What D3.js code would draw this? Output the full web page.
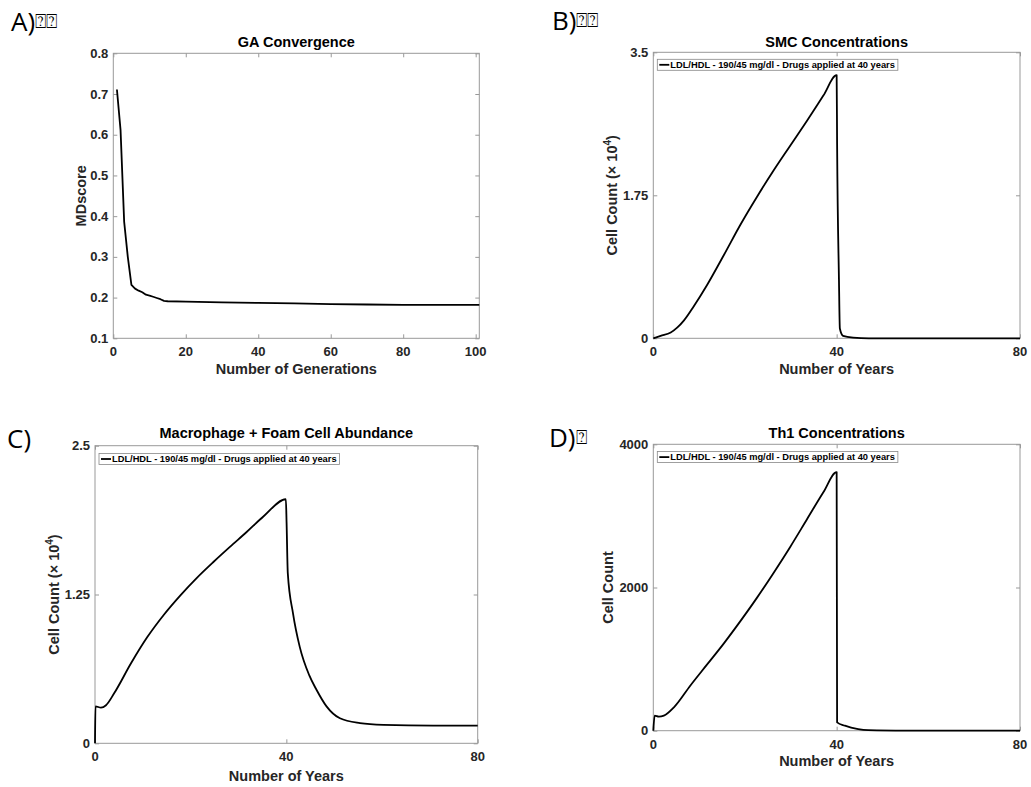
<!DOCTYPE html>
<html>
<head>
<meta charset="utf-8">
<script src="https://cdn.jsdelivr.net/npm/d3@7"></script>
<style>
  body { margin: 0; background: #fff; }
  text { font-family: "Liberation Sans", Arial, sans-serif; fill: #262626; }
  .tick-label { font-size: 13px; font-weight: bold; }
  .axis-title { font-size: 14.5px; font-weight: bold; }
  .panel-title { font-size: 14.5px; font-weight: bold; fill: #000; }
  .legend-text { font-size: 9.3px; font-weight: bold; fill: #000; }
  .panel-letter { font-family: "Open Sans", sans-serif; font-size: 26px; fill: #000; }
  .tofu { font-family: "DejaVu Sans", sans-serif; font-size: 19px; }
</style>
</head>
<body>
<svg id="fig" width="1031" height="787"></svg>
<script>
// ---- data ----
const legendLabel = 'LDL/HDL - 190/45 mg/dl - Drugs applied at 40 years';

// A) GA convergence
const genA = [1, 2, 3, 4, 5, 6, 7, 8, 9, 10, 11, 12, 13, 14, 15, 20, 30, 40, 50, 60, 70, 80, 90, 101];
const scoreA = [0.711, 0.612, 0.386, 0.300, 0.231, 0.222, 0.217, 0.213, 0.207, 0.205, 0.202, 0.199, 0.196, 0.192, 0.191,
                0.190, 0.188, 0.187, 0.186, 0.184, 0.183, 0.182, 0.182, 0.182];
const xTicksA = [0, 20, 40, 60, 80, 100];
const yTicksA = [0.1, 0.2, 0.3, 0.4, 0.5, 0.6, 0.7, 0.8];

// B) SMC concentrations (x 10^4)
const yearsB = [0, 1.6, 3.8, 5.2, 6.7, 8.8, 11.7, 15.4, 19, 22.6, 26.2, 29.9, 33.5, 37.1, 40, 40.1, 40.5, 40.7, 41.4, 43.6, 47, 60, 80];
const smcB = [0, 0.03, 0.07, 0.13, 0.22, 0.39, 0.65, 1.02, 1.39, 1.73, 2.05, 2.36, 2.66, 2.97, 3.22, 2.37, 0.73, 0.12, 0.03, 0.008, 0, 0, 0];
const yTicksB = [0, 1.75, 3.5];

// C) Macrophage + foam cell abundance (x 10^4)
const yearsC = [0, 0.1, 1.25, 2.3, 4, 7.5, 10.9, 14.4, 17.9, 21.3, 24.8, 28.2, 31.7, 35.2, 39.9, 40.05, 40.3, 41.4, 42.8, 44.8, 46.3, 48.4, 51.2, 55.4, 60.3, 70.7, 80];
const macroC = [0, 0.31, 0.30, 0.32, 0.42, 0.67, 0.89, 1.08, 1.245, 1.39, 1.525, 1.65, 1.775, 1.905, 2.05, 1.85, 1.43, 1.09, 0.81, 0.57, 0.45, 0.31, 0.21, 0.17, 0.155, 0.148, 0.148];
const yTicksC = [0, 1.25, 2.5];

// D) Th1 concentrations
const yearsD = [0, 0.3, 1.2, 2.3, 4.5, 8.1, 11.7, 15.4, 19, 22.6, 26.2, 29.9, 33.5, 37.1, 40, 40.1, 41.8, 44.7, 46.9, 55, 80];
const th1D = [0, 210, 196, 210, 327, 632, 922, 1220, 1530, 1855, 2200, 2570, 2950, 3330, 3612, 117, 70, 23, 9, 2, 0];
const yTicksD = [0, 2000, 4000];

const xTicksYears = [0, 40, 80];

const svg = d3.select('#fig');

function panel(p) {
    const w = p.right - p.left, h = p.bottom - p.top;
    const g = svg.append('g').attr('transform', `translate(${p.left}, ${p.top})`);

    const xScale = d3.scaleLinear().domain(p.xDomain).range([0, w]);
    const yScale = d3.scaleLinear().domain(p.yDomain).range([h, 0]);

    // inward ticks on all four sides, MATLAB style
    const tick = 4;
    const axisColor = '#999';
    g.append('g').call(d3.axisBottom(xScale).tickValues(p.xTicks).tickSize(-tick).tickFormat(''))
        .attr('transform', `translate(0, ${h})`);
    g.append('g').call(d3.axisTop(xScale).tickValues(p.xTicks).tickSize(-tick).tickFormat(''));
    g.append('g').call(d3.axisLeft(yScale).tickValues(p.yTicks).tickSize(-tick).tickFormat(''));
    g.append('g').call(d3.axisRight(yScale).tickValues(p.yTicks).tickSize(-tick).tickFormat(''))
        .attr('transform', `translate(${w}, 0)`);
    g.selectAll('.domain').remove();
    g.selectAll('.tick line').attr('stroke', axisColor);

    g.append('rect')
        .attr('x', 0).attr('y', 0).attr('width', w).attr('height', h)
        .attr('fill', 'none').attr('stroke', axisColor).attr('stroke-width', 1);

    // tick labels
    g.selectAll('.xl').data(p.xTicks).enter().append('text')
        .attr('class', 'tick-label')
        .attr('x', d => xScale(d)).attr('y', h + 18)
        .attr('text-anchor', 'middle')
        .text(d => d);
    g.selectAll('.yl').data(p.yTicks).enter().append('text')
        .attr('class', 'tick-label')
        .attr('x', -5).attr('y', d => yScale(d) + 4.5)
        .attr('text-anchor', 'end')
        .text(p.yFormat);

    // the line
    const line = d3.line()
        .x((d, i) => xScale(p.xs[i]))
        .y(d => yScale(d))
        .curve(p.curve);
    g.append('path')
        .datum(p.ys)
        .attr('fill', 'none')
        .attr('stroke', '#000')
        .attr('stroke-width', 1.8)
        .attr('stroke-linejoin', 'round')
        .attr('d', line);

    // titles
    g.append('text').attr('class', 'panel-title')
        .attr('x', w / 2).attr('y', p.titleY)
        .attr('text-anchor', 'middle')
        .text(p.title);
    g.append('text').attr('class', 'axis-title')
        .attr('x', w / 2).attr('y', h + p.xLabelY)
        .attr('text-anchor', 'middle')
        .text(p.xLabel);

    const yl = g.append('text').attr('class', 'axis-title')
        .attr('transform', `translate(${p.yLabelX}, ${h / 2}) rotate(-90)`)
        .attr('text-anchor', 'middle');
    if (p.yPower) {
        yl.append('tspan').text('Cell Count (\u00d7 10');
        yl.append('tspan').attr('dy', -6).style('font-size', '10px').text('4');
        yl.append('tspan').attr('dy', 6).text(')');
    } else {
        yl.text(p.yLabel);
    }

    // legend
    if (p.legend) {
        const lg = g.append('g').attr('transform', `translate(4, ${p.legendY})`);
        const box = lg.append('rect').attr('fill', '#fff').attr('stroke', '#888').attr('stroke-width', 0.8);
        lg.append('line').attr('x1', 2).attr('x2', 12).attr('y1', 5.5).attr('y2', 5.5)
            .attr('stroke', '#000').attr('stroke-width', 1.8);
        const t = lg.append('text').attr('class', 'legend-text')
            .attr('x', 13).attr('y', 8.9).text(p.legend);
        const tw = t.node().getComputedTextLength();
        box.attr('x', 0).attr('y', 0).attr('width', tw + 16).attr('height', 11);
    }
}

panel({
    left: 113.3, top: 53.3, right: 479.3, bottom: 338.3,
    xDomain: [0, 101], yDomain: [0.1, 0.8],
    xTicks: xTicksA, yTicks: yTicksA, yFormat: d3.format('.1f'),
    xs: genA, ys: scoreA, curve: d3.curveLinear,
    title: 'GA Convergence', titleY: -6.5,
    xLabel: 'Number of Generations', xLabelY: 36,
    yLabel: 'MDscore', yLabelX: -27
});

panel({
    left: 653.3, top: 52.3, right: 1020, bottom: 338.3,
    xDomain: [0, 80], yDomain: [0, 3.5],
    xTicks: xTicksYears, yTicks: yTicksB, yFormat: d => d,
    xs: yearsB, ys: smcB, curve: d3.curveMonotoneX,
    title: 'SMC Concentrations', titleY: -5.5,
    xLabel: 'Number of Years', xLabelY: 36,
    yPower: true, yLabelX: -36.5,
    legend: legendLabel, legendY: 7
});

panel({
    left: 95, top: 445.7, right: 477.7, bottom: 743.3,
    xDomain: [0, 80], yDomain: [0, 2.5],
    xTicks: xTicksYears, yTicks: yTicksC, yFormat: d => d,
    xs: yearsC, ys: macroC, curve: d3.curveMonotoneX,
    title: 'Macrophage + Foam Cell Abundance', titleY: -7.5,
    xLabel: 'Number of Years', xLabelY: 38,
    yPower: true, yLabelX: -36.5,
    legend: legendLabel, legendY: 7.8
});

panel({
    left: 653.3, top: 444.3, right: 1020, bottom: 730.7,
    xDomain: [0, 80], yDomain: [0, 4000],
    xTicks: xTicksYears, yTicks: yTicksD, yFormat: d => d,
    xs: yearsD, ys: th1D, curve: d3.curveMonotoneX,
    title: 'Th1 Concentrations', titleY: -6,
    xLabel: 'Number of Years', xLabelY: 35.5,
    yLabel: 'Cell Count', yLabelX: -40,
    legend: legendLabel, legendY: 7.3
});

// panel letters; the boxes after them are unrenderable characters in the original
const letters = [
    {t: 'A)', tofu: '\u2370\u2370', x: 11, y: 31},
    {t: 'B)', tofu: '\u2370\u2370', x: 552, y: 30},
    {t: 'C)', tofu: '', x: 7, y: 448},
    {t: 'D)', tofu: '\u2370', x: 549, y: 447}
];
const lt = svg.selectAll('.panel-letter').data(letters).enter().append('text')
    .attr('class', 'panel-letter')
    .attr('x', d => d.x).attr('y', d => d.y);
lt.append('tspan').text(d => d.t);
lt.append('tspan').attr('class', 'tofu').attr('dy', -3).text(d => d.tofu);
</script>
</body>
</html>
